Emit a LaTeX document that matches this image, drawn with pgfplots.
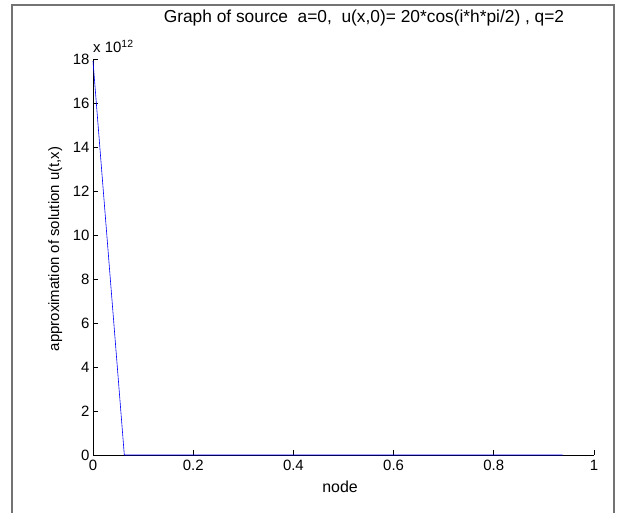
\documentclass[border=0pt]{standalone}
\usepackage{fontspec}
\setmainfont{Liberation Sans}
\usepackage{pgfplots}
\pgfplotsset{compat=1.18}
\begin{document}
\begin{tikzpicture}[x=1bp,y=1bp]
\path[use as bounding box] (0,0) rectangle (619,513);
\draw[line width=1.5bp, color=black!55] (12,0) -- (12,508) -- (614,508) -- (614,0);
\begin{axis}[
  at={(93bp,58bp)}, anchor=south west,
  scale only axis, width=501bp, height=396bp,
  xmin=0, xmax=1, ymin=0, ymax=18e12,
  axis x line*=bottom, axis y line*=left,
  axis line style={-, black, line width=0.8bp},
  tick align=inside,
  major tick length=5bp,
  tick style={black, line width=0.8bp},
  xtick={0,0.2,0.4,0.6,0.8,1},
  ytick={0,2e12,4e12,6e12,8e12,10e12,12e12,14e12,16e12,18e12},
  yticklabels={0,2,4,6,8,10,12,14,16,18},
  scaled y ticks=false,
  /pgf/number format/assume math mode=true,
  ticklabel style={font=\fontsize{15}{17}\selectfont},
  xticklabel style={yshift=-2bp},
  yticklabel style={xshift=0bp},
  clip=false,
]
\addplot[blue, line width=0.6bp] coordinates {
(0,17.9e12) (0.0625,0) (0.125,0) (0.1875,0) (0.25,0) (0.3125,0) (0.375,0) (0.4375,0)
(0.5,0) (0.5625,0) (0.625,0) (0.6875,0) (0.75,0) (0.8125,0) (0.875,0) (0.9375,0)
};
\end{axis}
\node[anchor=base west, inner sep=0, font=\fontsize{15}{17}\selectfont] at (93,460) {x 10\textsuperscript{12}};
\node[anchor=base, inner sep=0, font=\fontsize{17.4}{20}\selectfont] at (364,490) {Graph of source\ \ a=0,\ \ u(x,0)= 20*cos(i*h*pi/2) , q=2};
\node[anchor=base, inner sep=0, font=\fontsize{16}{18}\selectfont] at (340,20) {node};
\node[anchor=base, inner sep=0, rotate=90, font=\fontsize{15}{17}\selectfont] at (59,264) {approximation of solution u(t,x)};
\end{tikzpicture}
\end{document}
